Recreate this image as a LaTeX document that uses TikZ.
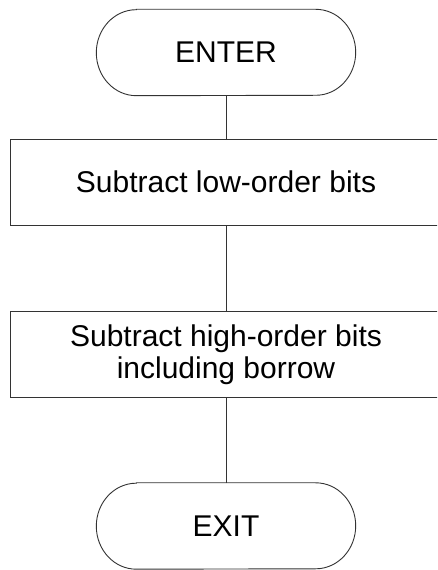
\documentclass[tikz,border=0pt]{standalone}
\usepackage{fontspec}
\setmainfont{Liberation Sans}
\begin{document}
\begin{tikzpicture}[x=1pt,y=1pt,
  line color/.style={draw=black!80, line width=0.9pt},
  termnode/.style={minimum width=259pt, minimum height=86pt, inner sep=0pt, font=\fontsize{30}{32.5}\selectfont},
  procbox/.style={line color, rectangle, minimum width=430.6pt, minimum height=86pt, inner sep=0pt, align=center, font=\fontsize{30}{32.5}\selectfont},
  flowline/.style={line color}
]
\useasboundingbox (0,0) rectangle (437,570);
\clip (0,0) rectangle (437,570);
\fill[white] (0,0) rectangle (437,570);

\node[termnode] (enter) at (226,517.5) {ENTER};
\node[procbox] (low) at (226,388) {Subtract low-order bits};
\node[procbox] (high) at (226,215.3) {Subtract high-order bits\\including borrow};
\node[termnode] (exit) at (226,44) {EXIT};

\foreach \n in {enter,exit}{
  \draw[line color] ([xshift=40pt]\n.north west) -- ([xshift=-40pt]\n.north east)
    arc[start angle=90,end angle=-90,x radius=40pt,y radius=43pt]
    -- ([xshift=40pt]\n.south west)
    arc[start angle=270,end angle=90,x radius=40pt,y radius=43pt] -- cycle;
}

\draw[flowline] (enter.south) -- (low.north);
\draw[flowline] (low.south) -- (high.north);
\draw[flowline] (high.south) -- (exit.north);
\end{tikzpicture}
\end{document}
